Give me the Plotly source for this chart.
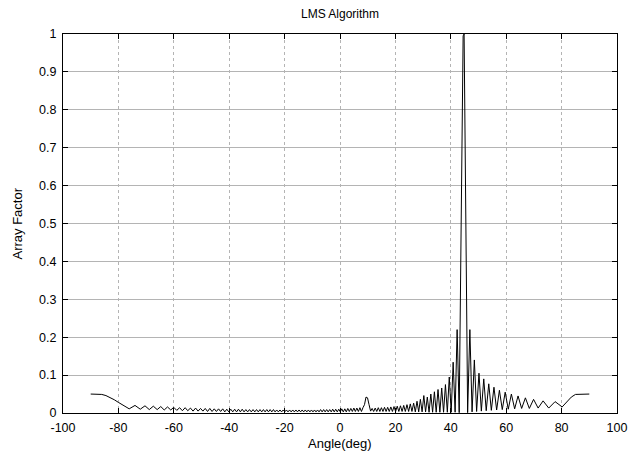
import plotly.graph_objects as go

# ---- data (angle in degrees, normalized array factor) ----
left_edge_angle = [-90, -88, -86, -84.5, -83, -81.5, -80, -78.55]
left_edge_af = [0.050, 0.050, 0.049, 0.046, 0.041, 0.035, 0.028, 0.021]

far_left_angle = [-76.1, -74.0, -72.1, -70.4, -68.85, -67.4, -66.0, -64.7, -63.46, -62.27,
                  -61.1, -60.02, -58.93, -57.9, -56.9, -55.9, -54.96, -53.99, -53.05, -52.13,
                  -51.23, -50.35, -49.49, -48.65, -47.82, -47.00, -46.19, -45.40, -44.62, -43.85,
                  -43.09, -42.34, -41.60, -40.87, -40.15]
far_left_af = [0.011, 0.020, 0.010, 0.019, 0.009, 0.018, 0.009, 0.017, 0.008, 0.016,
               0.008, 0.015, 0.007, 0.014, 0.006, 0.014, 0.006, 0.013, 0.005, 0.013,
               0.005, 0.012, 0.005, 0.012, 0.004, 0.012, 0.004, 0.011, 0.004, 0.011,
               0.004, 0.011, 0.003, 0.010, 0.003]

mid_left_angle = [-39.44, -38.73, -38.03, -37.34, -36.66, -35.98, -35.31, -34.64, -33.98, -33.33,
                  -32.68, -32.03, -31.39, -30.76, -30.13, -29.50, -28.88, -28.26, -27.65, -27.04,
                  -26.43, -25.83, -25.23, -24.63, -24.03, -23.44, -22.85, -22.26, -21.67, -21.09,
                  -20.51, -19.93, -19.35, -18.77, -18.20, -17.63, -17.06, -16.49, -15.92, -15.35,
                  -14.78, -14.22, -13.66, -13.10, -12.54, -11.98, -11.42, -10.87, -10.31, -9.76,
                  -9.21, -8.66, -8.11, -7.56, -7.01, -6.46, -5.91, -5.36, -4.81, -4.27,
                  -3.72, -3.17, -2.63, -2.08, -1.54, -0.99, -0.45]
mid_left_af = [0.010, 0.003, 0.010, 0.003, 0.010, 0.003, 0.010, 0.003, 0.009, 0.003,
               0.009, 0.003, 0.009, 0.003, 0.009, 0.003, 0.009, 0.003, 0.009, 0.003,
               0.009, 0.003, 0.009, 0.003, 0.009, 0.003, 0.008, 0.003, 0.008, 0.003,
               0.008, 0.003, 0.008, 0.003, 0.008, 0.003, 0.008, 0.003, 0.008, 0.003,
               0.008, 0.003, 0.008, 0.003, 0.008, 0.003, 0.008, 0.003, 0.008, 0.003,
               0.008, 0.003, 0.008, 0.003, 0.009, 0.003, 0.009, 0.003, 0.009, 0.003,
               0.009, 0.003, 0.010, 0.003, 0.010, 0.003, 0.010]

near_left_angle = [0.10, 0.64, 1.18, 1.73, 2.27, 2.82, 3.36, 3.91, 4.45, 5.00,
                   5.54, 6.09, 6.64, 7.19, 7.74, 8.29, 8.84, 9.39, 9.94, 10.49,
                   11.04, 11.60, 12.15, 12.71, 13.27, 13.83, 14.39, 14.95, 15.51, 16.07,
                   16.64, 17.21, 17.78, 18.35, 18.92, 19.50, 20.08, 20.66, 21.24, 21.82,
                   22.41, 23.00, 23.59, 24.18, 24.78, 25.38, 25.98, 26.58, 27.19, 27.80,
                   28.41, 29.02, 29.64, 30.26, 30.89, 31.52, 32.15, 32.79, 33.43, 34.08,
                   34.73, 35.39, 36.05, 36.72, 37.39, 38.07, 38.75, 39.45, 40.14, 40.85,
                   41.56, 42.29, 43.03]
near_left_af = [0.003, 0.011, 0.003, 0.011, 0.003, 0.012, 0.004, 0.012, 0.004, 0.013,
                0.004, 0.013, 0.004, 0.014, 0.004, 0.014, 0.022, 0.042, 0.040, 0.022,
                0.005, 0.012, 0.004, 0.013, 0.004, 0.014, 0.004, 0.014, 0.004, 0.015,
                0.004, 0.015, 0.004, 0.016, 0.004, 0.017, 0.004, 0.018, 0.004, 0.019,
                0.004, 0.020, 0.004, 0.022, 0.004, 0.024, 0.004, 0.026, 0.003, 0.031,
                0.003, 0.036, 0.003, 0.046, 0.003, 0.042, 0.002, 0.050, 0.002, 0.056,
                0.002, 0.062, 0.002, 0.066, 0.002, 0.075, 0.002, 0.095, 0.002, 0.134,
                0.002, 0.220, 0.001]

main_lobe_angle = [44.45, 44.8]
main_lobe_af = [0.995, 1.0]

right_angle = [46.08, 46.88, 47.68, 48.50, 49.32, 50.17, 51.03, 51.90, 52.79, 53.70,
               54.63, 55.58, 56.55, 57.55, 58.58, 59.64, 60.74, 61.87, 63.05, 64.28,
               65.57, 66.93, 68.35, 69.88, 71.53, 73.32, 75.35, 77.65, 80.2]
right_af = [0.001, 0.220, 0.003, 0.140, 0.004, 0.105, 0.005, 0.090, 0.006, 0.077,
            0.007, 0.068, 0.008, 0.060, 0.009, 0.055, 0.010, 0.050, 0.011, 0.045,
            0.012, 0.040, 0.012, 0.036, 0.013, 0.032, 0.013, 0.030, 0.016]

right_edge_angle = [82.0, 83.5, 85.0, 87.0, 90.0]
right_edge_af = [0.030, 0.042, 0.049, 0.050, 0.050]

x_ticks = [-100, -80, -60, -40, -20, 0, 20, 40, 60, 80, 100]
y_ticks = [0, 0.1, 0.2, 0.3, 0.4, 0.5, 0.6, 0.7, 0.8, 0.9, 1]

angle = (left_edge_angle + far_left_angle + mid_left_angle + near_left_angle
         + main_lobe_angle + right_angle + right_edge_angle)
af = (left_edge_af + far_left_af + mid_left_af + near_left_af
      + main_lobe_af + right_af + right_edge_af)

FONT = "Liberation Sans, Arial, sans-serif"
W, H = 631, 454
L, R, T, B = 63, 14, 34, 41
PW, PH = W - L - R, H - T - B

fig = go.Figure()
fig.add_trace(go.Scatter(x=angle, y=af, mode="lines",
                         line=dict(color="black", width=1), showlegend=False))

fig.update_layout(
    width=W, height=H,
    margin=dict(l=L, r=R, t=T, b=B, autoexpand=False),
    paper_bgcolor="white", plot_bgcolor="white",
    font=dict(family=FONT, size=13, color="black"),
    title=dict(text="LMS Algorithm", x=0.5, xref="paper", xanchor="center",
               y=1 - 14 / H, yanchor="middle", yref="container",
               font=dict(family=FONT, size=12, color="black")),
    annotations=[
        dict(text="Angle(deg)", xref="paper", yref="paper",
             x=0.5, y=-(443 - (H - B)) / PH, xanchor="center", yanchor="middle",
             showarrow=False, font=dict(family=FONT, size=13)),
        dict(text="Array Factor", xref="paper", yref="paper",
             x=-(L - 17) / PW, y=0.5, xanchor="center", yanchor="middle",
             textangle=-90, showarrow=False, font=dict(family=FONT, size=13)),
    ],
)
fig.update_xaxes(
    range=[-100, 100], tickvals=x_ticks, ticktext=[str(v) for v in x_ticks],
    showline=True, linecolor="black", linewidth=1, mirror="ticks",
    ticks="inside", ticklen=5, tickcolor="black",
    showgrid=True, gridcolor="#b4b4b4", griddash="dot", gridwidth=1,
    zeroline=False, automargin=False, ticklabelstandoff=3,
    tickfont=dict(family=FONT, size=12.5),
)
fig.update_yaxes(
    range=[0, 1], tickvals=y_ticks, ticktext=[f"{v:g}" for v in y_ticks],
    showline=True, linecolor="black", linewidth=1, mirror="ticks",
    ticks="inside", ticklen=5, tickcolor="black",
    showgrid=True, gridcolor="#b4b4b4", gridwidth=1,
    zeroline=False, automargin=False, ticklabelstandoff=3,
    tickfont=dict(family=FONT, size=12.5),
)

fig.write_html("out.html", config={"displayModeBar": False},
               post_script="document.body.style.margin='0';document.body.style.overflow='hidden';")
